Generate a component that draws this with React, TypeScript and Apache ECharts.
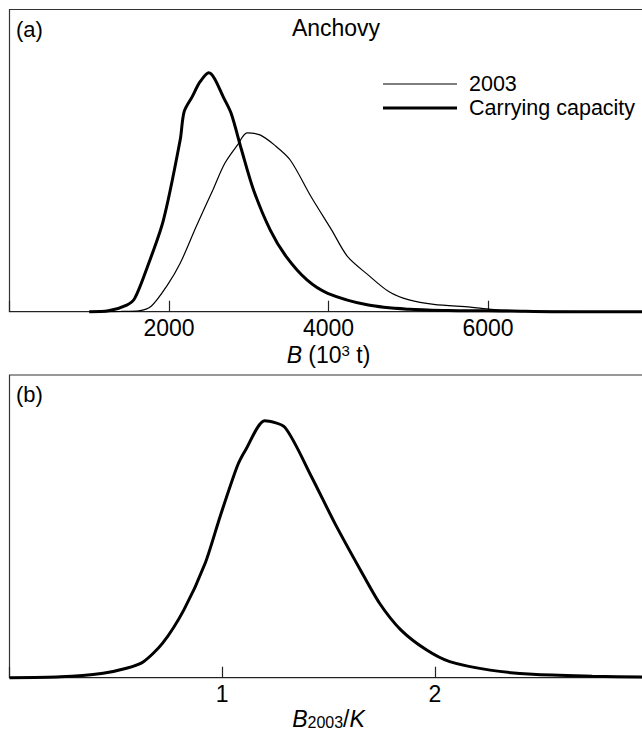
import React, { useEffect, useRef } from "react";
import * as echarts from "echarts";

// Panel (a): biomass B (10^3 t) vs density
const capacityB = [1000, 1240, 1470, 1570, 1730, 1930, 2140, 2190, 2290, 2390, 2500, 2570, 2680, 2780, 2910, 3060, 3270, 3470, 3730, 3990, 4500, 5010, 5500, 6000, 6300, 6800, 8000];
const capacityDensity = [0, 0.003, 0.022, 0.044, 0.149, 0.303, 0.568, 0.662, 0.711, 0.761, 0.791, 0.772, 0.711, 0.656, 0.535, 0.403, 0.27, 0.182, 0.105, 0.061, 0.022, 0.008, 0.004, 0.003, 0.002, 0, 0];

const y2003B = [1000, 1400, 1620, 1780, 1980, 2140, 2340, 2550, 2700, 2860, 2980, 3140, 3320, 3520, 3780, 4040, 4240, 4500, 4760, 5010, 5320, 5780, 6040, 6500, 8000];
const y2003Density = [0, 0.001, 0.003, 0.019, 0.088, 0.16, 0.281, 0.403, 0.491, 0.552, 0.592, 0.585, 0.552, 0.502, 0.381, 0.27, 0.182, 0.121, 0.066, 0.039, 0.024, 0.015, 0.008, 0.002, 0];

// Panel (b): B2003 / K
const ratio = [0, 0.24, 0.44, 0.55, 0.63, 0.72, 0.82, 0.92, 0.99, 1.07, 1.11, 1.2, 1.295, 1.42, 1.53, 1.65, 1.74, 1.84, 1.96, 2.07, 2.26, 2.46, 2.74, 3.0];
const ratioDensity = [0, 0.003, 0.015, 0.031, 0.053, 0.114, 0.224, 0.378, 0.532, 0.697, 0.752, 0.849, 0.827, 0.664, 0.51, 0.356, 0.246, 0.158, 0.092, 0.053, 0.025, 0.011, 0.005, 0.002];

const seriesNames = ["2003", "Carrying capacity"];
const ticksA = ["2000", "4000", "6000"];
const ticksB = ["1", "2"];

const FONT = "'Liberation Sans', Arial, Helvetica, sans-serif";

const zip = (xs: number[], ys: number[]) => xs.map((x, i) => [x, ys[i]]);

export default function App() {
  const ref = useRef<HTMLDivElement>(null);
  useEffect(() => {
    if (!ref.current) return;
    const chart = echarts.init(ref.current, null, { renderer: "svg" });
    const axisCommon = {
      type: "value" as const,
      axisLine: { show: true, onZero: false, lineStyle: { color: "#222", width: 1.2 } },
      axisTick: { show: true, inside: true, length: 11, lineStyle: { color: "#222", width: 1.2 } },
      splitLine: { show: false },
      showMinLabel: false,
      showMaxLabel: false,
      nameLocation: "middle" as const,
    };
    const legendLine = (y: number, w: number) => ({
      type: "line",
      shape: { x1: 383, y1: y, x2: 457, y2: y },
      style: { stroke: "#000", lineWidth: w },
    });
    const legendText = (y: number, t: string) => ({
      type: "text",
      x: 469,
      y,
      style: { text: t, fontSize: 21.5, fill: "#000", fontFamily: FONT, verticalAlign: "middle" },
    });
    chart.setOption({
      animation: false,
      backgroundColor: "#fff",
      textStyle: { fontFamily: FONT, color: "#000" },
      grid: [
        { left: 9.5, top: 9.5, width: 638, height: 302.2, show: true, borderColor: "#333", borderWidth: 1.2, backgroundColor: "transparent" },
        { left: 9.5, top: 375, width: 638, height: 302.7, show: true, borderColor: "#333", borderWidth: 1.2, backgroundColor: "transparent" },
      ],
      xAxis: [
        {
          ...axisCommon,
          gridIndex: 0,
          min: 0,
          max: 8000,
          interval: 2000,
          axisLabel: {
            fontSize: 23,
            color: "#000",
            fontFamily: FONT,
            margin: 5,
            formatter: (v: number) => (ticksA.includes(String(v)) ? String(v) : ""),
          },
          name: "{i|B} (10{sup|3} t)",
          nameGap: 31,
          nameTextStyle: {
            fontSize: 23,
            color: "#000",
            fontFamily: FONT,
            rich: {
              i: { fontStyle: "italic", fontSize: 23, fontFamily: FONT, color: "#000" },
              sup: { fontSize: 15, fontFamily: FONT, color: "#000", verticalAlign: "bottom", padding: [0, 0, 9, 0] },
            },
          },
        },
        {
          ...axisCommon,
          gridIndex: 1,
          min: 0,
          max: 3,
          interval: 1,
          axisLabel: {
            fontSize: 23,
            color: "#000",
            fontFamily: FONT,
            margin: 5,
            formatter: (v: number) => (ticksB.includes(String(v)) ? String(v) : ""),
          },
          name: "{i|B}{sub|2003}/{i|K}",
          nameGap: 30,
          nameTextStyle: {
            fontSize: 23,
            color: "#000",
            fontFamily: FONT,
            rich: {
              i: { fontStyle: "italic", fontSize: 23, fontFamily: FONT, color: "#000" },
              sub: { fontSize: 16, fontFamily: FONT, color: "#000", verticalAlign: "bottom" },
            },
          },
        },
      ],
      yAxis: [
        { type: "value", gridIndex: 0, min: 0, max: 1, show: false },
        { type: "value", gridIndex: 1, min: 0, max: 1, show: false },
      ],
      graphic: [
        { type: "text", left: 16, top: 18, style: { text: "(a)", fontSize: 22, fill: "#000", fontFamily: FONT } },
        { type: "text", left: 16, top: 383, style: { text: "(b)", fontSize: 22, fill: "#000", fontFamily: FONT } },
        { type: "text", x: 336, y: 28, style: { text: "Anchovy", fontSize: 23, fill: "#000", fontFamily: FONT, align: "center", verticalAlign: "middle" } },
        legendLine(84, 1.2),
        legendText(84, seriesNames[0]),
        legendLine(108, 3),
        legendText(108, seriesNames[1]),
      ],
      series: [
        {
          name: seriesNames[0],
          type: "line",
          xAxisIndex: 0,
          yAxisIndex: 0,
          data: zip(y2003B, y2003Density),
          smooth: 0.3,
          symbol: "none",
          clip: false,
          lineStyle: { color: "#000", width: 1.2 },
        },
        {
          name: seriesNames[1],
          type: "line",
          xAxisIndex: 0,
          yAxisIndex: 0,
          data: zip(capacityB, capacityDensity),
          smooth: 0.3,
          symbol: "none",
          clip: false,
          lineStyle: { color: "#000", width: 3 },
        },
        {
          name: "B2003/K",
          type: "line",
          xAxisIndex: 1,
          yAxisIndex: 1,
          data: zip(ratio, ratioDensity),
          smooth: 0.25,
          symbol: "none",
          clip: false,
          lineStyle: { color: "#000", width: 3 },
        },
      ],
    });
    return () => chart.dispose();
  }, []);
  return (
    <div style={{ position: "fixed", left: 0, top: 0, width: 642, height: 732, overflow: "hidden", background: "#fff" }}>
      <div ref={ref} style={{ width: 652, height: 732 }} />
    </div>
  );
}
